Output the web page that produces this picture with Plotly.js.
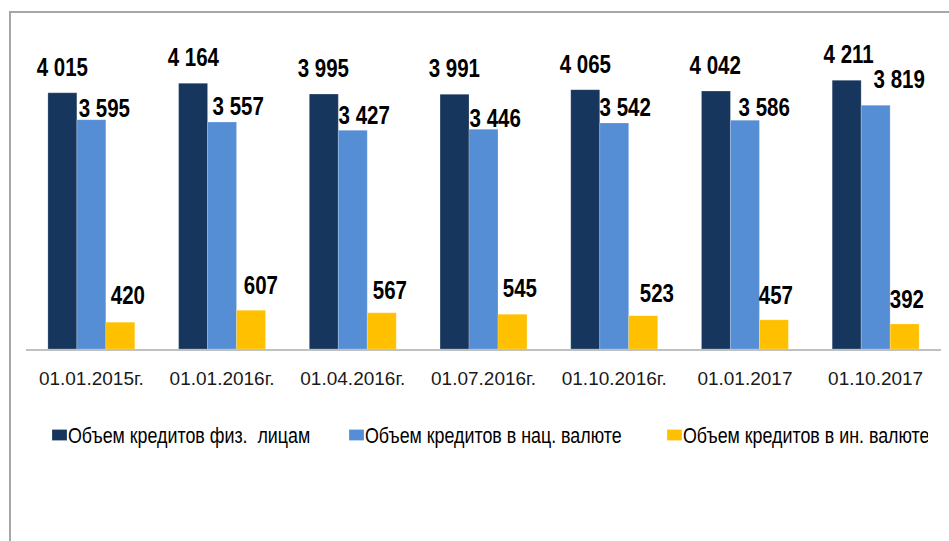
<!DOCTYPE html>
<html>
<head>
<meta charset="utf-8">
<script src="https://cdn.plot.ly/plotly-3.0.1.min.js"></script>
<style>
html,body{margin:0;padding:0;background:#fff;}
#chart{width:949px;height:541px;}
/* emulate a narrow (Arial Narrow-like) face */
#chart .annotation-text{transform:scaleX(0.82);transform-box:fill-box;transform-origin:center;}
#chart .legendtext{transform:scaleX(0.83);transform-box:fill-box;transform-origin:left center;}
#chart .legendpoints path{transform:translate(31.5px,0) scale(1.25,0.92);}
</style>
</head>
<body>
<div id="chart"></div>
<script>
// ---- data ----
const categories = ["01.01.2015г.", "01.01.2016г.", "01.04.2016г.", "01.07.2016г.", "01.10.2016г.", "01.01.2017", "01.10.2017"];
const seriesNames = ["Объем кредитов физ.  лицам", "Объем кредитов в нац. валюте", "Объем кредитов в ин. валюте"];
const loansTotal = [4015, 4164, 3995, 3991, 4065, 4042, 4211];
const loansNational = [3595, 3557, 3427, 3446, 3542, 3586, 3819];
const loansForeign = [420, 607, 567, 545, 523, 457, 392];

// ---- styling ----
const colors = ["#17365D", "#558ED5", "#FFC000"];
const regular = "'Liberation Sans', Arial, sans-serif";
// label offsets (px) relative to each bar's top centre
const barShift = [-29, 0, 29];
const labelDx = [[0,0,0,0,0,0,2],[13,16,12,12,11,20,24],[8,10,8,7,14,2,2]];
const labelDy = [[26,26,26,26,26,26,26],[12,16,15,11,16,13,26],[27,25,23,26,23,25,25]];
const legendWidths = [252, 273, 240];

const allSeries = [loansTotal, loansNational, loansForeign];
const fmt = v => String(v).replace(/\B(?=(\d{3})+(?!\d))/g, ' ');

const traces = allSeries.map((vals, i) => ({
  type: 'bar',
  name: seriesNames[i],
  x: categories,
  y: vals,
  marker: {color: colors[i], line: {color: 'rgba(255,255,255,0.35)', width: 0.6}},
  legendwidth: legendWidths[i],
  hoverinfo: 'skip'
}));

const annotations = [];
allSeries.forEach((vals, i) => {
  vals.forEach((v, j) => {
    annotations.push({
      x: categories[j], y: v, xref: 'x', yref: 'y',
      text: fmt(v), showarrow: false,
      xanchor: 'center', yanchor: 'middle',
      xshift: barShift[i] + labelDx[i][j],
      yshift: labelDy[i][j],
      font: {family: regular, size: 25, color: '#000', weight: 'bold'}
    });
  });
});

const layout = {
  width: 949, height: 541,
  margin: {l: 26, r: 8, t: 30, b: 192},
  paper_bgcolor: '#fff', plot_bgcolor: '#fff',
  barmode: 'group', bargap: 0.335, bargroupgap: 0,
  showlegend: true,
  legend: {
    orientation: 'h', xref: 'container', yref: 'container',
    x: 28/949, xanchor: 'left', y: 1 - 435/541, yanchor: 'middle',
    font: {family: regular, size: 21.5, color: '#000'},
    itemwidth: 30, traceorder: 'normal', bgcolor: 'rgba(0,0,0,0)'
  },
  xaxis: {
    type: 'category', showgrid: false, zeroline: false,
    showline: true, linecolor: '#C0C0C0', linewidth: 2,
    ticks: '', ticklabelstandoff: 11,
    tickfont: {family: regular, size: 19, color: '#1a1a1a'}
  },
  yaxis: {
    range: [0, 5000], visible: false, showgrid: false, zeroline: false, fixedrange: true
  },
  annotations: annotations,
  shapes: [{
    type: 'rect', xref: 'paper', yref: 'paper',
    x0: -16/915, x1: 1.2, y0: -1, y1: (349 - 12)/319,
    line: {color: '#A6A6A6', width: 2}, fillcolor: 'rgba(0,0,0,0)', layer: 'below'
  }]
};

Plotly.newPlot('chart', traces, layout, {displayModeBar: false, staticPlot: true});
</script>
</body>
</html>
